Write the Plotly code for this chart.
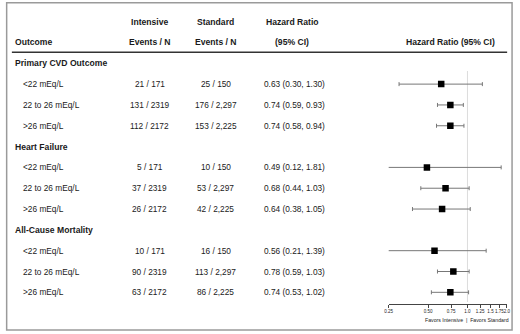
import plotly.graph_objects as go

W, H = 520, 334

# ---------------- data ----------------
outcomes = ["Primary CVD Outcome", "Heart Failure", "All-Cause Mortality"]
subgroups = ["&lt;22 mEq/L", "22 to 26 mEq/L", "&gt;26 mEq/L"]

intensive_events = [21, 131, 112, 5, 37, 26, 10, 90, 63]
intensive_n = [171, 2319, 2172, 171, 2319, 2172, 171, 2319, 2172]
standard_events = [25, 176, 153, 10, 53, 42, 16, 113, 86]
standard_n = [150, 2297, 2225, 150, 2297, 2225, 150, 2297, 2225]

hr = [0.63, 0.74, 0.74, 0.49, 0.68, 0.64, 0.56, 0.78, 0.74]
ci_lo = [0.30, 0.59, 0.58, 0.12, 0.44, 0.38, 0.21, 0.59, 0.53]
ci_hi = [1.30, 0.93, 0.94, 1.81, 1.03, 1.05, 1.39, 1.03, 1.02]

tick_vals = [0.25, 0.5, 0.75, 1.0, 1.25, 1.5, 1.75, 2.0]
tick_text = ["0.25", "0.50", "0.75", "1.0", "1.25", "1.5", "1.75", "2.0"]

# ---------------- layout helpers ----------------
ROW0_PX = 63.3
ROW_H = 20.82


def px_to_row(py):
    return (py - ROW0_PX) / ROW_H


FONT = "Liberation Sans, Arial, sans-serif"
TXT = "#1a1a1a"
FS = 8.3
FSB = 8.6

row_of = []
for g in range(len(outcomes)):
    for s in range(len(subgroups)):
        row_of.append(g * 4 + 1 + s)

fig = go.Figure()

fig.add_trace(go.Scatter(
    x=hr, y=row_of, mode="markers",
    marker=dict(symbol="square", size=6.5, color="black"),
    error_x=dict(type="data", symmetric=False,
                 array=[h - m for h, m in zip(ci_hi, hr)],
                 arrayminus=[m - l for m, l in zip(hr, ci_lo)],
                 color="#777777", thickness=1, width=2),
    showlegend=False, hoverinfo="skip",
))

ann = []


def text(x_px, row, t, anchor="left", bold=False, size=None):
    ann.append(dict(
        x=x_px / W, xref="paper", y=row, yref="y",
        text=f"<b>{t}</b>" if bold else t, showarrow=False,
        xanchor=anchor, yanchor="middle",
        font=dict(family=FONT, size=size or (FSB if bold else FS), color=TXT),
    ))


# headers
text(148, -2, "Intensive", "center", True)
text(215, -2, "Standard", "center", True)
text(292.5, -2, "Hazard Ratio", "center", True)
text(9, -1, "Outcome", "left", True)
text(148, -1, "Events / N", "center", True)
text(215, -1, "Events / N", "center", True)
text(292.5, -1, "(95% CI)", "center", True)
text(453, -1, "Hazard Ratio (95% CI)", "center", True)

for g, name in enumerate(outcomes):
    text(9, g * 4, name, "left", True)
    for s, sub in enumerate(subgroups):
        k = g * 3 + s
        r = row_of[k]
        text(17, r, sub, "left")
        text(148, r, f"{intensive_events[k]} / {intensive_n[k]}", "center")
        text(215, r, f"{standard_events[k]} / {standard_n[k]:,}", "center")
        text(262, r, f"{hr[k]:.2f} ({ci_lo[k]:.2f}, {ci_hi[k]:.2f})", "left")

# favors label
text(470.5, px_to_row(319.5), "Favors Intensive  |  Favors Standard",
     "center", size=5.2)

shapes = [
    # outer frame
    dict(type="rect", xref="paper", yref="paper",
         x0=2.7 / W, x1=516 / W, y0=1 - 330 / H, y1=1 - 2.7 / H,
         line=dict(color="#9a9a9a", width=1.5), fillcolor="rgba(0,0,0,0)"),
    # header underline
    dict(type="line", xref="paper", yref="y",
         x0=8 / W, x1=511 / W, y0=px_to_row(52.3), y1=px_to_row(52.3),
         line=dict(color="#333333", width=1.5)),
    # reference line at HR = 1
    dict(type="line", xref="x", yref="y", x0=1.0, x1=1.0,
         y0=px_to_row(71), y1=px_to_row(302),
         line=dict(color="#dcdcdc", width=1), layer="below"),
]

fig.update_layout(
    width=W, height=H,
    margin=dict(l=0, r=0, t=0, b=0),
    paper_bgcolor="white", plot_bgcolor="rgba(0,0,0,0)",
    annotations=ann, shapes=shapes,
    xaxis=dict(type="log", domain=[390.7 / W, 510.7 / W],
               range=[-0.60206, 0.30103],
               anchor="free", position=1 - 304 / H,
               tickvals=tick_vals, ticktext=tick_text, tickangle=0,
               tickfont=dict(family=FONT, size=4.5, color=TXT),
               ticks="outside", ticklen=3, tickcolor="#444", tickwidth=1,
               showline=True, linecolor="#444", linewidth=1,
               showgrid=False, zeroline=False, fixedrange=True),
    yaxis=dict(range=[px_to_row(H), px_to_row(0)], visible=False,
               fixedrange=True),
    showlegend=False,
)

fig.write_html(
    "out.html",
    config={"displayModeBar": False, "staticPlot": True},
    post_script="document.body.style.margin='0';document.body.style.padding='0';",
)
